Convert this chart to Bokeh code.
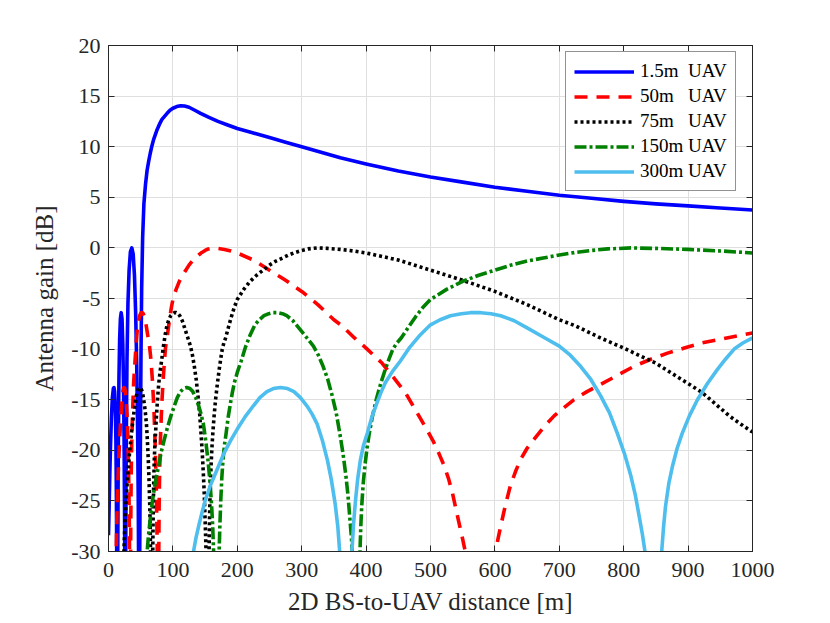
from bokeh.plotting import figure
from bokeh.models import Range1d, FixedTicker, LinearAxis, Legend, LegendItem
from bokeh.embed import file_html
from bokeh.resources import INLINE

# ---------------- data ----------------
x_ticks = [0, 100, 200, 300, 400, 500, 600, 700, 800, 900, 1000]
x_tick_labels = ["0", "100", "200", "300", "400", "500", "600", "700", "800", "900", "1000"]
y_ticks = [-30, -25, -20, -15, -10, -5, 0, 5, 10, 15, 20]
y_tick_labels = ["-30", "-25", "-20", "-15", "-10", "-5", "0", "5", "10", "15", "20"]

labels = ["1.5m\u00a0\u00a0UAV", "50m\u00a0\u00a0\u00a0UAV", "75m\u00a0\u00a0\u00a0UAV",
          "150m\u00a0UAV", "300m\u00a0UAV"]

# 1.5 m UAV
d_15 = [0, 1, 2, 3, 4.5, 6, 7.5, 8.5, 9.5, 10.5, 11.5, 12.3, 12.9, 13.4,
        13.8, 14.4, 15.2, 16.2, 17.3, 18.5, 19.7, 21, 22.2, 23.3, 24.2, 24.9, 25.4, 25.7,
        26, 26.6, 27.5, 28.7, 30.2, 32, 34, 36.2, 38.3, 40.3, 42.2, 43.8, 45.2, 46.2, 46.9, 47.3,
        47.8, 48.5, 49.4, 50.4, 51.5, 53, 55, 57.5, 60, 62.5, 65, 67.5, 70, 73, 75.6, 79, 83, 87,
        91, 95.5, 100, 106, 112, 118, 125, 134, 143, 156, 170, 185, 200, 225, 250, 275, 300, 330,
        360, 400, 450, 500, 550, 600, 650, 700, 750, 800, 850, 900, 950, 1000]
g_15 = [-28.4, -25.5, -22.5, -19.8, -16.8, -14.8, -13.9, -13.8, -14.2, -15.5, -19, -25, -32, -45,
        -45, -30, -20, -13, -9, -7, -6.4, -7, -9.5, -13.5, -19, -26, -33, -45,
        -45, -32, -20, -11, -5.5, -2.2, -0.4, 0, -0.6, -2.7, -6.5, -11.5, -18, -25, -33, -45,
        -45, -30, -20, -11, -4, 1, 4.4, 6.3, 7.7, 8.6, 9.4, 10.1, 10.7, 11.25, 11.7, 12.2, 12.7, 13.0,
        13.3, 13.6, 13.8, 13.97, 14.05, 14.02, 13.9, 13.6, 13.3, 12.9, 12.5, 12.15, 11.8, 11.35, 10.9, 10.45, 10.0, 9.45,
        8.9, 8.3, 7.6, 7.0, 6.5, 6.0, 5.6, 5.2, 4.9, 4.6, 4.35, 4.15, 3.95, 3.75]

# 50 m UAV
d_50 = [11.2, 12.0, 12.36, 12.73, 13.18, 13.64, 14.36, 15.27, 16.36, 17.27, 18.18, 19.27, 20.45, 21.36,
        22.36, 23.27, 24.27, 25.27, 26.18, 27.09, 28.0, 28.73, 29.45, 30.18, 30.91, 31.45, 32.0, 32.36,
        32.64, 33.09,
        34.36, 34.59, 34.86, 35.18, 35.55, 36.0, 36.55, 37.18, 37.91, 38.45, 39.09, 40.09, 41.18, 42.55,
        44.0, 45.45, 46.82, 48.27, 49.82, 51.09, 52.55, 54.0, 55.36, 57.27, 59.09, 61.36, 63.64, 65.18,
        66.64, 68.09, 69.45, 70.73, 71.82, 72.82, 73.73, 74.36, 74.91, 75.36, 75.73, 76.91,
        78.09, 78.36, 78.64, 79.09, 79.64, 80.27, 81.0, 82.0, 83.14, 84.55, 85.96, 87.09, 88.32, 89.55,
        90.91, 93.2, 95.4, 97.6, 100, 105, 110, 115, 120, 125, 130, 135, 140, 145, 150, 155, 162.4,
        170, 180, 190, 200, 225, 250, 275, 300, 325, 350, 362.5, 382, 400, 425, 442.5, 461,
        482, 493, 505, 513, 521, 528, 534, 544, 549, 554, 577, 601, 605, 609, 616, 624, 632, 640, 650,
        661, 676, 692, 707, 723, 743, 764, 790, 816, 842, 868, 894, 920, 960, 1000]
g_50 = [-36, -30, -28.6, -27.5, -26.2, -25, -23.5, -22, -20.2, -19.0, -17.9, -16.7, -15.6, -14.8,
        -14.2, -13.9, -13.8, -13.9, -14.2, -14.8, -15.6, -16.4, -17.4, -19.0, -21, -22.9, -25.3, -27.5,
        -30, -45,
        -30, -27.3, -25, -22.8, -21, -19.5, -18.3, -16.7, -15.3, -14.3, -13.3, -12.2, -11.2, -9.8,
        -8.6, -7.6, -7.1, -6.7, -6.5, -6.4, -6.4, -6.5, -6.7, -7.2, -7.9, -8.8, -9.7, -10.6,
        -11.7, -13.0, -14.6, -16.3, -18.3, -20.3, -22.5, -24.4, -26.5, -28.3, -30, -45,
        -30, -27.5, -25.5, -23.3, -21.5, -19.8, -18.3, -16.6, -15, -13.4, -12, -11, -10, -9.4,
        -8.9, -7.8, -6.8, -5.9, -5.1, -4.1, -3.3, -2.7, -2.2, -1.7, -1.3, -1.0, -0.7, -0.45, -0.25, -0.1, 0,
        -0.05, -0.15, -0.3, -0.5, -1.2, -2.2, -3.2, -4.3, -5.6, -7.1, -7.7, -8.9, -9.9, -11.4, -12.8, -14.3,
        -16.6, -17.8, -19.2, -20.3, -21.5, -22.8, -24.2, -27.1, -28.5, -30, -45, -30, -28.7, -27.5, -25.5, -23.5, -22.1, -20.9, -19.8,
        -18.9, -17.7, -16.6, -15.8, -15, -14.2, -13.5, -12.6, -11.7, -11.0, -10.4, -9.9, -9.4, -8.9, -8.4]

# 75 m UAV
d_75 = [22.4, 24.0, 24.73, 25.45, 26.36, 27.27, 28.73, 30.55, 32.73, 34.55, 36.36, 38.55, 40.91, 42.73,
        44.73, 46.55, 48.55, 50.55, 52.36, 54.18, 56.0, 57.45, 58.91, 60.36, 61.82, 62.91, 64.0, 64.73,
        65.27, 66.18,
        68.73, 69.18, 69.73, 70.36, 71.09, 72.0, 73.09, 74.36, 75.82, 76.91, 78.18, 80.18, 82.36, 85.09,
        88.0, 90.91, 93.64, 96.55, 99.64, 102.18, 105.09, 108.0, 110.73, 114.55, 118.18, 122.73, 127.27,
        130.36, 133.27, 136.18, 138.91, 141.45, 143.64, 145.64, 147.45, 148.73, 149.82, 150.73, 151.45, 153.82,
        156.18, 156.73, 157.27, 158.18, 159.27, 160.55, 162.0, 164.0, 166.27, 169.09, 171.93, 174.18,
        176.64, 179.09, 181.82, 186.4, 190.8, 195.2, 200, 210, 220, 230, 240, 250, 260, 270, 280, 290,
        300, 310, 324.8, 340, 360, 380, 400, 450, 500, 550, 600, 650, 700, 725, 764, 800, 850, 885, 922,
        964, 986, 1000]
g_75 = [-36, -30, -28.6, -27.5, -26.2, -25, -23.5, -22, -20.2, -19.0, -17.9, -16.7, -15.6, -14.8,
        -14.2, -13.9, -13.8, -13.9, -14.2, -14.8, -15.6, -16.4, -17.4, -19.0, -21, -22.9, -25.3, -27.5,
        -30, -45,
        -30, -27.3, -25, -22.8, -21, -19.5, -18.3, -16.7, -15.3, -14.3, -13.3, -12.2, -11.2, -9.8,
        -8.6, -7.6, -7.1, -6.7, -6.5, -6.4, -6.4, -6.5, -6.7, -7.2, -7.9, -8.8, -9.7,
        -10.6, -11.7, -13.0, -14.6, -16.3, -18.3, -20.3, -22.5, -24.4, -26.5, -28.3, -30, -45,
        -30, -27.5, -25.5, -23.3, -21.5, -19.8, -18.3, -16.6, -15, -13.4, -12, -11,
        -10, -9.4, -8.9, -7.8, -6.8, -5.9, -5.1, -4.1, -3.3, -2.7, -2.2, -1.7, -1.3, -1.0, -0.7, -0.45,
        -0.25, -0.1, 0, -0.05, -0.15, -0.3, -0.5, -1.2, -2.2, -3.2, -4.3, -5.6, -7.1, -7.7, -8.9, -9.9, -11.4, -12.8, -14.3,
        -16.6, -17.6, -18.2]

# 150 m UAV
d_150 = [56, 60.0, 61.8, 63.6, 65.9, 68.2, 71.8, 76.4, 81.8, 86.4, 90.9, 96.4, 102.3, 106.8, 111.8,
         116.4, 121.4, 126.4, 130.9, 135.5, 140.0, 143.6, 147.3, 150.9, 154.5, 157.3, 160.0, 161.8,
         163.2, 165.5,
         171.8, 173.0, 174.3, 175.9, 177.7, 180.0, 182.7, 185.9, 189.5, 192.3, 195.5, 200.5, 205.9,
         212.7, 220.0, 227.3, 234.1, 241.4, 249.1, 255.5, 262.7, 270.0, 276.8, 286.4, 295.5, 306.8,
         318.2, 325.9, 333.2, 340.5, 347.3, 353.6, 359.1, 364.1, 368.6, 371.8, 374.5, 376.8, 378.6, 384.5,
         390.5, 391.8, 393.2, 395.5, 398.2, 401.4, 405.0, 410.0, 415.7, 422.7, 429.8, 435.5, 441.6,
         447.7, 454.5, 466, 477, 488, 500, 525, 550, 575, 600, 625, 650, 675, 700, 725, 750, 775, 812,
         850, 900, 950, 1000]
g_150 = [-36, -30, -28.6, -27.5, -26.2, -25, -23.5, -22, -20.2, -19.0, -17.9, -16.7, -15.6, -14.8, -14.2,
         -13.9, -13.8, -13.9, -14.2, -14.8, -15.6, -16.4, -17.4, -19.0, -21, -22.9, -25.3, -27.5,
         -30, -45,
         -30, -27.3, -25, -22.8, -21, -19.5, -18.3, -16.7, -15.3, -14.3, -13.3, -12.2, -11.2,
         -9.8, -8.6, -7.6, -7.1, -6.7, -6.5, -6.4, -6.4, -6.5, -6.7, -7.2, -7.9, -8.8,
         -9.7, -10.6, -11.7, -13.0, -14.6, -16.3, -18.3, -20.3, -22.5, -24.4, -26.5, -28.3, -30, -45,
         -30, -27.5, -25.5, -23.3, -21.5, -19.8, -18.3, -16.6, -15, -13.4, -12, -11, -10,
         -9.4, -8.9, -7.8, -6.8, -5.9, -5.1, -4.1, -3.3, -2.7, -2.2, -1.7, -1.3, -1.0, -0.7, -0.45, -0.25, -0.1, 0,
         -0.05, -0.15, -0.3, -0.5]

# 300 m UAV
d_300 = [123, 132, 136, 140, 145, 150, 158, 168, 180, 190, 200, 212, 225, 235, 246, 256, 267, 278, 288,
         298, 308, 316, 324, 332, 340, 346, 352, 356, 359, 364,
         378, 380.5, 383.5, 387, 391, 396, 402, 409, 417, 423, 430, 441, 453, 468, 484, 500, 515, 531,
         548, 562, 578, 594, 609, 630, 650, 675, 700, 717, 733, 749, 764, 778, 790, 801, 811, 818, 824,
         829, 833, 846,
         859, 862, 865, 870, 876, 883, 891, 902, 914.5, 930, 945.6, 958, 971.5, 985, 1000]
g_300 = [-36, -30, -28.6, -27.5, -26.2, -25, -23.5, -22, -20.2, -19.0, -17.9, -16.7, -15.6, -14.8, -14.2, -13.9, -13.8, -13.9, -14.2,
         -14.8, -15.6, -16.4, -17.4, -19.0, -21, -22.9, -25.3, -27.5, -30, -45,
         -30, -27.3, -25, -22.8, -21, -19.5, -18.3, -16.7, -15.3, -14.3, -13.3, -12.2, -11.2, -9.8, -8.6, -7.6, -7.1, -6.7,
         -6.5, -6.4, -6.4, -6.5, -6.7, -7.2, -7.9, -8.8, -9.7, -10.6, -11.7, -13.0, -14.6, -16.3, -18.3, -20.3, -22.5, -24.4, -26.5,
         -28.3, -30, -45,
         -30, -27.5, -25.5, -23.3, -21.5, -19.8, -18.3, -16.6, -15, -13.4, -12, -11, -10, -9.4, -8.9]

colors = ["#0000ff", "#ff0000", "#000000", "#008000", "#4dbeee"]
dashes = ["solid", "13 9", "3 3", "12 3 3 3", "solid"]

# ---------------- figure ----------------
FONT = "Liberation Serif"
AX = "#262626"

p = figure(frame_width=644, frame_height=506, output_backend="svg", toolbar_location=None,
           x_range=Range1d(0, 1000), y_range=Range1d(-30, 20),
           min_border_left=108, min_border_right=62, min_border_top=45, min_border_bottom=30,
           background_fill_color="white", border_fill_color="white")
p.outline_line_color = AX
p.outline_line_width = 1

p.xaxis.ticker = FixedTicker(ticks=x_ticks)
p.yaxis.ticker = FixedTicker(ticks=y_ticks)
p.xaxis.major_label_overrides = {t: s for t, s in zip(x_ticks, x_tick_labels)}
p.yaxis.major_label_overrides = {t: s for t, s in zip(y_ticks, y_tick_labels)}
p.xaxis.axis_label = "2D BS-to-UAV distance [m]"
p.yaxis.axis_label = "Antenna gain [dB]"

for ax in [p.xaxis[0], p.yaxis[0]]:
    ax.axis_line_color = AX
    ax.major_tick_line_color = AX
    ax.major_tick_in = 6
    ax.major_tick_out = 0
    ax.minor_tick_line_color = None
    ax.major_label_text_font = FONT
    ax.major_label_text_font_size = "22px"
    ax.major_label_text_color = AX
    ax.axis_label_text_font = FONT
    ax.axis_label_text_font_size = "25px"
    ax.axis_label_text_font_style = "normal"
    ax.axis_label_text_color = AX
p.xaxis.major_label_standoff = 11
p.xaxis.axis_label_standoff = 8
p.yaxis.major_label_standoff = 8
p.yaxis.axis_label_standoff = 10

for loc, ticks in [("right", y_ticks), ("above", x_ticks)]:
    ax = LinearAxis(ticker=FixedTicker(ticks=ticks))
    ax.major_label_overrides = {t: "" for t in ticks}
    ax.major_label_text_font_size = "0px"
    ax.major_label_standoff = 0
    ax.axis_line_color = AX
    ax.major_tick_line_color = AX
    ax.major_tick_in = 6
    ax.major_tick_out = 0
    ax.minor_tick_line_color = None
    p.add_layout(ax, loc)

p.xgrid.ticker = FixedTicker(ticks=x_ticks)
p.ygrid.ticker = FixedTicker(ticks=y_ticks)
for g in [p.xgrid[0], p.ygrid[0]]:
    g.grid_line_color = "#dfdfdf"
    g.grid_line_width = 1

series = [(d_15, g_15), (d_50, g_50), (d_75, g_75), (d_150, g_150), (d_300, g_300)]
items = []
for (xs, ys), c, dsh, lab in zip(series, colors, dashes, labels):
    r = p.line(xs, ys, line_color=c, line_width=3.6, line_dash=dsh, line_join="round")
    items.append(LegendItem(label=lab, renderers=[r]))

legend = Legend(items=items, location=(457, 360), margin=0, padding=8, spacing=3,
                label_height=21, glyph_height=21, glyph_width=60, label_standoff=6,
                label_text_font=FONT, label_text_font_size="19px", label_text_color="black",
                border_line_color=AX, border_line_width=1, background_fill_color="white",
                background_fill_alpha=1.0)
p.add_layout(legend)

open("out.html", "w").write(file_html(p, INLINE))
